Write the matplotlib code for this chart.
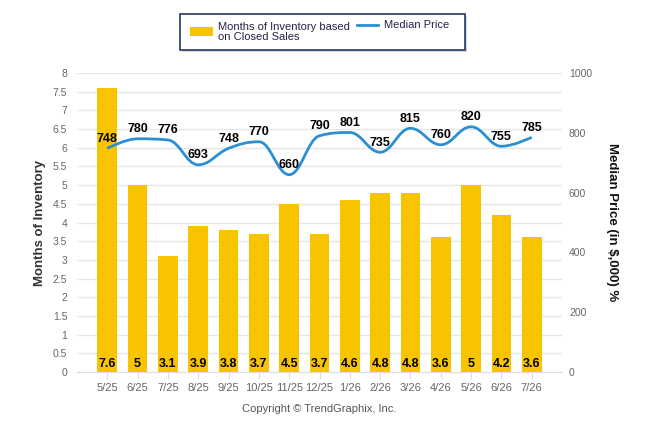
import numpy as np
import matplotlib.pyplot as plt
from matplotlib.path import Path
from matplotlib.patches import PathPatch, Rectangle

plt.rcParams['font.family'] = ['Liberation Sans', 'DejaVu Sans']

# chart data
months = ['5/25', '6/25', '7/25', '8/25', '9/25', '10/25', '11/25', '12/25',
          '1/26', '2/26', '3/26', '4/26', '5/26', '6/26', '7/26']
inventory = [7.6, 5, 3.1, 3.9, 3.8, 3.7, 4.5, 3.7, 4.6, 4.8, 4.8, 3.6, 5, 4.2, 3.6]
median_price = [748, 780, 776, 693, 748, 770, 660, 790, 801, 735, 815, 760, 820, 755, 785]

bar_color = '#F8C400'
line_color = '#2B8FD3'
tick_color = '#666666'
grid_color = '#E6E6E6'


def spline_path(xs, ys, smoothing=1.5):
    # highcharts-style spline: cubic bezier between data points
    n = len(xs)
    left = [(xs[i], ys[i]) for i in range(n)]
    right = [(xs[i], ys[i]) for i in range(n)]
    d = smoothing + 1
    for i in range(1, n - 1):
        lx = (smoothing * xs[i] + xs[i - 1]) / d
        ly = (smoothing * ys[i] + ys[i - 1]) / d
        rx = (smoothing * xs[i] + xs[i + 1]) / d
        ry = (smoothing * ys[i] + ys[i + 1]) / d
        corr = (ry - ly) * (rx - xs[i]) / (rx - lx) + ys[i] - ry
        ly += corr
        ry += corr
        hi, lo = max(ys[i - 1], ys[i]), min(ys[i - 1], ys[i])
        if ly > hi:
            ly = hi
            ry = 2 * ys[i] - ly
        elif ly < lo:
            ly = lo
            ry = 2 * ys[i] - ly
        hi, lo = max(ys[i + 1], ys[i]), min(ys[i + 1], ys[i])
        if ry > hi:
            ry = hi
            ly = 2 * ys[i] - ry
        elif ry < lo:
            ry = lo
            ly = 2 * ys[i] - ry
        left[i] = (lx, ly)
        right[i] = (rx, ry)
    verts = [(xs[0], ys[0])]
    codes = [Path.MOVETO]
    for i in range(1, n):
        verts += [right[i - 1], left[i], (xs[i], ys[i])]
        codes += [Path.CURVE4] * 3
    return Path(verts, codes)


fig = plt.figure(figsize=(6.46, 4.34), dpi=100)
ax = fig.add_axes([77 / 646, 62 / 434, 485 / 646, 299 / 434])
ax2 = ax.twinx()

x = np.arange(len(months))
ax.bar(x, inventory, width=0.65, color=bar_color, zorder=2)
for xi, v in zip(x, inventory):
    ax.text(xi, 0.21, f'{v:g}', ha='center', va='center', fontsize=9,
            fontweight='bold', color='black', zorder=5)

ax.set_xlim(-1, len(months))
ax.set_ylim(0, 8)
yt = np.arange(0, 8.01, 0.5)
ax.set_yticks(yt)
ax.set_yticklabels([f'{t:g}' for t in yt])
ax.set_xticks(x)
ax.set_xticklabels(months)
ax.grid(axis='y', color=grid_color, linewidth=1, zorder=0)
ax.set_axisbelow(True)
for s in ['top', 'left', 'right']:
    ax.spines[s].set_visible(False)
ax.spines['bottom'].set_color('#DDDDDD')
ax.tick_params(axis='x', colors='#DDDDDD', length=5, labelcolor=tick_color,
               labelsize=8, pad=3)
ax.tick_params(axis='y', length=0, labelcolor=tick_color, labelsize=7.5, pad=7)
ax.set_ylabel('Months of Inventory', fontsize=9.5, fontweight='bold',
              color='#333333', labelpad=5)

ax2.set_ylim(0, 1000)
ax2.set_yticks(np.arange(0, 1001, 200))
for s in ['top', 'left', 'right', 'bottom']:
    ax2.spines[s].set_visible(False)
ax2.tick_params(axis='y', length=0, labelcolor=tick_color, labelsize=7.5, pad=5)
ax2.set_ylabel('Median Price (in $,000) %', fontsize=9.5, fontweight='bold',
               color='#111111', rotation=270, labelpad=19)

ax2.add_patch(PathPatch(spline_path(list(x), median_price), facecolor='none',
                        edgecolor=line_color, linewidth=2, zorder=3))
for xi, v in zip(x, median_price):
    ax2.annotate(str(v), (xi, v), xytext=(0, 7), textcoords='offset points',
                 ha='center', va='center', fontsize=9, fontweight='bold',
                 color='black', zorder=6)

# legend box
W, H = 646, 434
fig.patches.append(Rectangle((182 / W, 1 - 52 / H), 285 / W, 36 / H,
                             transform=fig.transFigure, facecolor='#BBBBBB',
                             edgecolor='none', alpha=0.6))
fig.patches.append(Rectangle((180 / W, 1 - 50 / H), 285 / W, 36 / H,
                             transform=fig.transFigure, facecolor='white',
                             edgecolor='#1F3864', linewidth=1.2))
fig.patches.append(Rectangle((190 / W, 1 - 36 / H), 23 / W, 9 / H,
                             transform=fig.transFigure, facecolor=bar_color,
                             edgecolor='none'))
fig.lines.append(plt.Line2D([357 / W, 378 / W], [1 - 25 / H, 1 - 25 / H],
                            transform=fig.transFigure, color=line_color, linewidth=2))
fig.text(218 / W, 1 - 31.5 / H, 'Months of Inventory based\non Closed Sales',
         ha='left', va='center', fontsize=8, color='#2A1F4A', linespacing=1.0)
fig.text(384 / W, 1 - 25 / H, 'Median Price', ha='left', va='center',
         fontsize=8, color='#2A1F4A')

fig.text(319 / W, 1 - 409 / H, 'Copyright \u00a9 TrendGraphix, Inc.',
         ha='center', va='center', fontsize=8, color='#555555')

fig.savefig('out.png', dpi=100)
